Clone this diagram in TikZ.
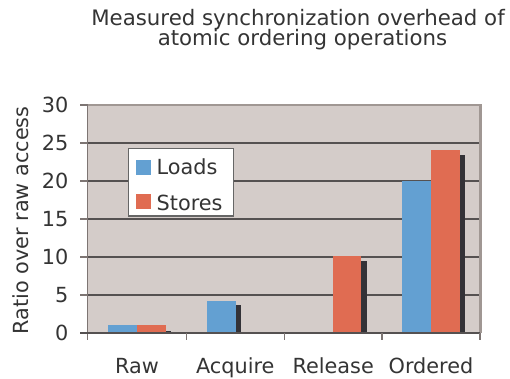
\documentclass[tikz,border=0pt]{standalone}
\usepackage{fontspec}
\setmainfont{DejaVu Sans}
\definecolor{plotbg}{RGB}{212,204,201}
\definecolor{barblue}{RGB}{99,160,210}
\definecolor{barred}{RGB}{224,108,82}
\definecolor{bardark}{RGB}{51,50,55}
\definecolor{gridc}{RGB}{85,81,81}
\definecolor{framec}{RGB}{160,151,147}
\definecolor{axisc}{RGB}{125,117,115}
\definecolor{textc}{RGB}{52,52,52}
\begin{document}
\begin{tikzpicture}[x=1bp,y=-1bp,
  lbl/.style={text=textc,inner sep=0pt,font=\fontsize{20.8bp}{24bp}\selectfont},
  ttl/.style={text=textc,inner sep=0pt,font=\fontsize{21.3bp}{24bp}\selectfont},
  gridline/.style={draw=gridc,line width=1.3bp},
  bluebar/.style={fill=barblue},
  redbar/.style={fill=barred},
  darkbar/.style={fill=bardark},
  legendbox/.style={draw=gray!80!black,fill=white,line width=1.2bp},
  tickmark/.style={draw=axisc,line width=1.2bp}]
\useasboundingbox (0,0) rectangle (510,378);
% plot area
\fill[plotbg] (88,105) rectangle (480,333);
\foreach \v in {5,10,15,20,25}{
  \draw[gridline] (88,{333-7.6*\v}) -- (480,{333-7.6*\v});
  \draw[tickmark] (80,{333-7.6*\v}) -- (88,{333-7.6*\v});
}
\draw[tickmark] (80,105) -- (88,105);
\draw[draw=framec,line width=2.5bp] (88,105) -- (480.5,105) -- (480.5,333);
% bars
\fill[bluebar] (108,333) rectangle (137,{333-7.6*1});
\fill[redbar] (137,333) rectangle (166,{333-7.6*1});
\fill[darkbar] (166,333) rectangle (171,{333-7.6*0.3});
\fill[bluebar] (207,333) rectangle (236,{333-7.6*4.2});
\fill[darkbar] (236,333) rectangle (241,{333-7.6*3.7});
\fill[redbar] (333,333) rectangle (361,{333-7.6*10.1});
\fill[darkbar] (361,333) rectangle (367,{333-7.6*9.5});
\fill[bluebar] (402,333) rectangle (431,{333-7.6*20});
\fill[redbar] (431,333) rectangle (460,{333-7.6*24.1});
\fill[darkbar] (460,333) rectangle (465,{333-7.6*23.4});
% axes
\draw[draw=axisc,line width=1.5bp] (87.7,105) -- (87.7,340);
\draw[draw=gridc,line width=1.3bp] (80,333) -- (480,333);
\foreach \x in {186.3,284.3,382,480}{
  \draw[tickmark] (\x,333) -- (\x,340);
}
% y tick labels
\foreach \v in {0,5,...,30}{
  \node[lbl,anchor=east] (yl\v) at (68.5,{333-7.6*\v}) {\v};
}
% category labels
\node[lbl,anchor=base] (cRaw) at (137,373.5) {Raw};
\node[lbl,anchor=base] (cAcq) at (235.3,373.5) {Acquire};
\node[lbl,anchor=base] (cRel) at (333.2,373.5) {Release};
\node[lbl,anchor=base] (cOrd) at (431,373.5) {Ordered};
% y axis label
\node[lbl,anchor=base,rotate=90] (ylabel) at (28,220.5) {Ratio over raw access};
% title
\node[ttl,anchor=base] (t1) at (298,25.5) {Measured synchronization overhead of};
\node[ttl,anchor=base] (t2) at (302.5,45.5) {atomic ordering operations};
% legend
\draw[legendbox] (128.3,148.3) rectangle (233.5,216);
\fill[bluebar] (136,160) rectangle (151,175);
\fill[redbar] (136,194) rectangle (151,209);
\node[lbl,anchor=base west] (lg1) at (156.5,174.3) {Loads};
\node[lbl,anchor=base west] (lg2) at (156.5,210) {Stores};
\end{tikzpicture}
\end{document}
